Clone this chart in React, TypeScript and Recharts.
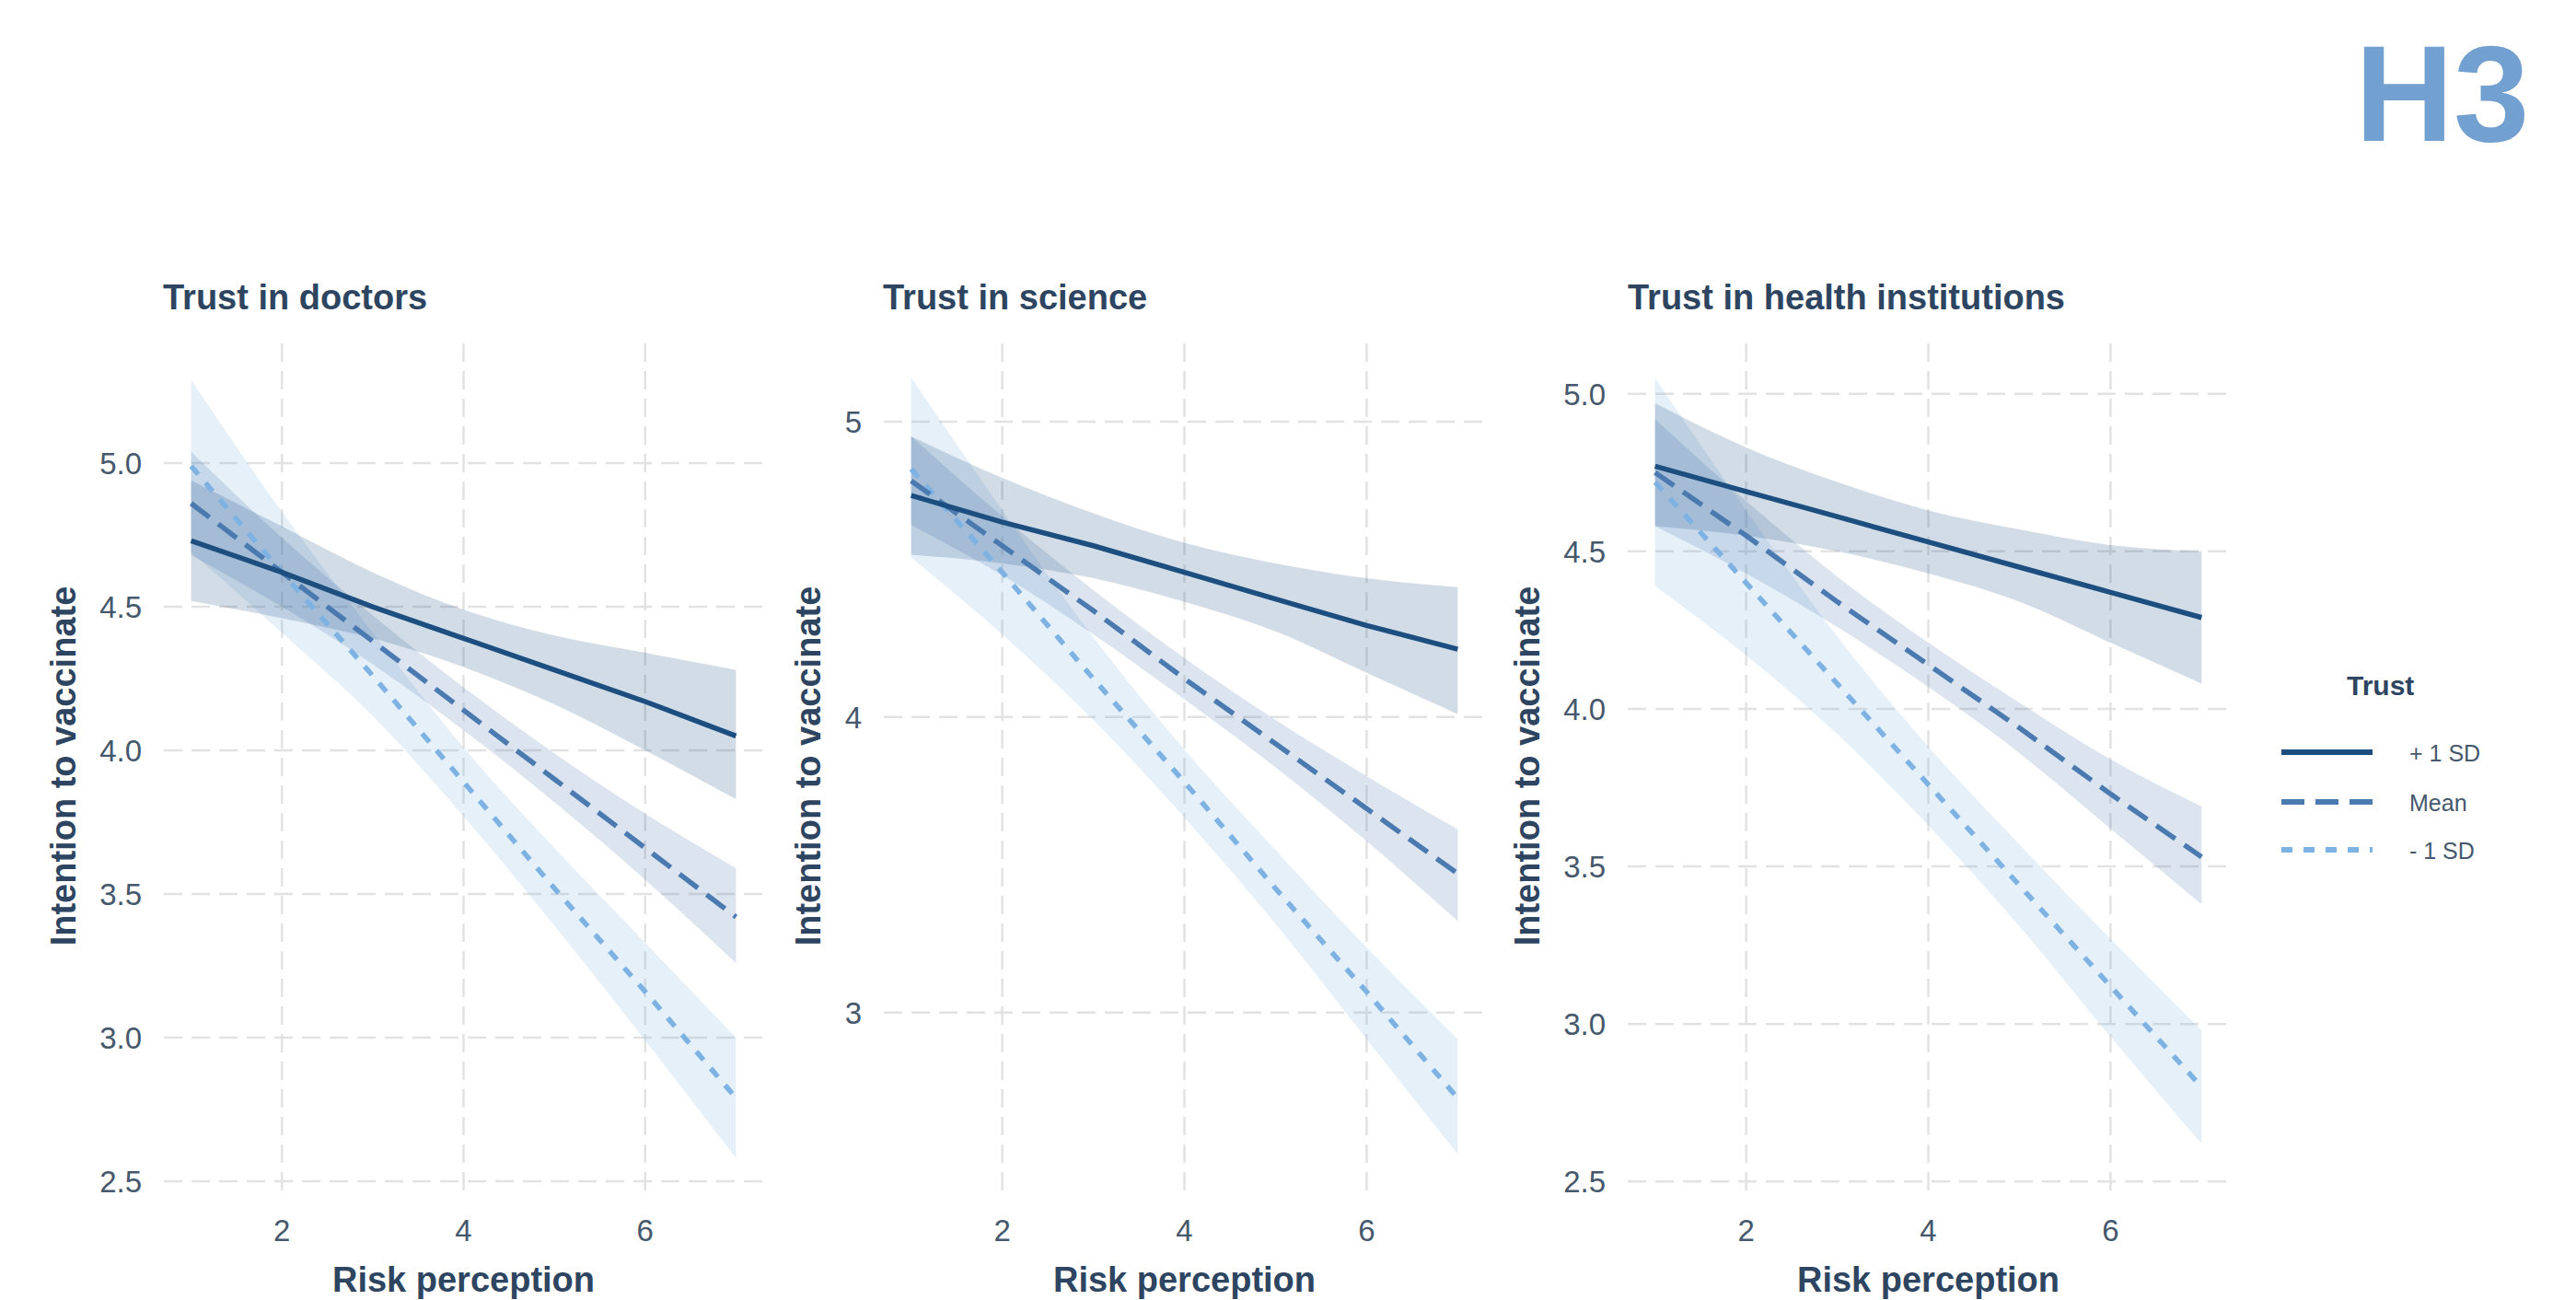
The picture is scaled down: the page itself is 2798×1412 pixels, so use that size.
import React from 'react';
import { ComposedChart, Area, Line, XAxis, YAxis, CartesianGrid } from 'recharts';

// ---------- data ----------
const riskX = [1, 2, 3, 4, 5, 6, 7];
const xTicks = [2, 4, 6];

const panelTitles = ['Trust in doctors', 'Trust in science', 'Trust in health institutions'];
const seriesNames = ['+ 1 SD', 'Mean', '- 1 SD'];
const legendTitle = 'Trust';
const xTitle = 'Risk perception';
const yTitle = 'Intention to vaccinate';
const cornerLabel = 'H3';

// Trust in doctors
const docYTicks = [2.5, 3.0, 3.5, 4.0, 4.5, 5.0];
const docPlusFit = [4.73, 4.62, 4.5, 4.39, 4.28, 4.17, 4.05];
const docPlusLow = [4.52, 4.46, 4.39, 4.29, 4.16, 4.0, 3.83];
const docPlusHigh = [4.94, 4.78, 4.62, 4.49, 4.4, 4.34, 4.28];
const docMeanFit = [4.86, 4.62, 4.38, 4.14, 3.9, 3.66, 3.42];
const docMeanLow = [4.68, 4.5, 4.3, 4.07, 3.82, 3.55, 3.26];
const docMeanHigh = [5.04, 4.74, 4.47, 4.22, 3.99, 3.78, 3.59];
const docMinusFit = [4.99, 4.62, 4.26, 3.89, 3.52, 3.16, 2.79];
const docMinusLow = [4.69, 4.41, 4.12, 3.77, 3.39, 2.99, 2.58];
const docMinusHigh = [5.29, 4.83, 4.41, 4.01, 3.66, 3.33, 3.0];

// Trust in science
const sciYTicks = [3, 4, 5];
const sciPlusFit = [4.75, 4.66, 4.58, 4.49, 4.4, 4.31, 4.23];
const sciPlusLow = [4.55, 4.52, 4.47, 4.39, 4.29, 4.15, 4.01];
const sciPlusHigh = [4.95, 4.81, 4.69, 4.59, 4.52, 4.47, 4.44];
const sciMeanFit = [4.8, 4.58, 4.36, 4.13, 3.91, 3.69, 3.47];
const sciMeanLow = [4.65, 4.48, 4.28, 4.06, 3.83, 3.58, 3.31];
const sciMeanHigh = [4.95, 4.68, 4.43, 4.2, 3.99, 3.8, 3.62];
const sciMinusFit = [4.84, 4.49, 4.13, 3.78, 3.42, 3.07, 2.71];
const sciMinusLow = [4.54, 4.28, 3.99, 3.66, 3.3, 2.91, 2.52];
const sciMinusHigh = [5.15, 4.7, 4.27, 3.89, 3.55, 3.22, 2.91];

// Trust in health institutions
const hltYTicks = [2.5, 3.0, 3.5, 4.0, 4.5, 5.0];
const hltPlusFit = [4.77, 4.69, 4.61, 4.53, 4.45, 4.37, 4.29];
const hltPlusLow = [4.58, 4.55, 4.5, 4.43, 4.34, 4.21, 4.08];
const hltPlusHigh = [4.97, 4.83, 4.72, 4.63, 4.57, 4.52, 4.5];
const hltMeanFit = [4.75, 4.55, 4.34, 4.14, 3.94, 3.73, 3.53];
const hltMeanLow = [4.58, 4.43, 4.26, 4.07, 3.86, 3.62, 3.38];
const hltMeanHigh = [4.92, 4.66, 4.42, 4.21, 4.02, 3.84, 3.69];
const hltMinusFit = [4.72, 4.4, 4.08, 3.76, 3.44, 3.12, 2.8];
const hltMinusLow = [4.39, 4.17, 3.92, 3.63, 3.31, 2.96, 2.62];
const hltMinusHigh = [5.05, 4.63, 4.23, 3.88, 3.57, 3.27, 2.98];

// ---------- styling ----------
const FONT = '"Liberation Sans", Arial, Helvetica, sans-serif';
const TITLE_COLOR = '#2d4560';
const TICK_COLOR = '#46586c';
const C_PLUS = '#1c4f80';
const C_MEAN = '#4a7ab0';
const C_MINUS = '#7db2e3';
const DASH_MEAN = '25 12';
const DASH_MINUS = '12 12';
const LINE_W = 5.5;
const TICK_FS = 33;
const PAGE_W = 2798;
const PAGE_H = 1412;

type Row = {
  x: number;
  plusFit: number; plusBand: [number, number];
  meanFit: number; meanBand: [number, number];
  minusFit: number; minusBand: [number, number];
};

function buildRows(
  pF: number[], pL: number[], pH: number[],
  mF: number[], mL: number[], mH: number[],
  nF: number[], nL: number[], nH: number[]
): Row[] {
  return riskX.map((x, i) => ({
    x,
    plusFit: pF[i], plusBand: [pL[i], pH[i]],
    meanFit: mF[i], meanBand: [mL[i], mH[i]],
    minusFit: nF[i], minusBand: [nL[i], nH[i]],
  }));
}

const docRows = buildRows(docPlusFit, docPlusLow, docPlusHigh, docMeanFit, docMeanLow, docMeanHigh, docMinusFit, docMinusLow, docMinusHigh);
const sciRows = buildRows(sciPlusFit, sciPlusLow, sciPlusHigh, sciMeanFit, sciMeanLow, sciMeanHigh, sciMinusFit, sciMinusLow, sciMinusHigh);
const hltRows = buildRows(hltPlusFit, hltPlusLow, hltPlusHigh, hltMeanFit, hltMeanLow, hltMeanHigh, hltMinusFit, hltMinusLow, hltMinusHigh);

type PanelCfg = {
  title: string;
  rows: Row[];
  yTicks: number[];
  fmt: (v: number) => string;
  domain: [number, number];
  left: number;
  width: number;
  yAxisWidth: number;
  right: number;
  yTitleX: number;
  titleX: number;
};

const PLOT_TOP = 373;
const X_AXIS_H = 115;

const panels: PanelCfg[] = [
  {
    title: panelTitles[0], rows: docRows, yTicks: docYTicks, fmt: (v) => v.toFixed(1),
    domain: [2.455, 5.417], left: 0, width: 900, yAxisWidth: 178, right: 71, yTitleX: 82, titleX: 177,
  },
  {
    title: panelTitles[1], rows: sciRows, yTicks: sciYTicks, fmt: (v) => String(v),
    domain: [2.385, 5.265], left: 850, width: 800, yAxisWidth: 110, right: 37, yTitleX: 41, titleX: 959,
  },
  {
    title: panelTitles[2], rows: hltRows, yTicks: hltYTicks, fmt: (v) => v.toFixed(1),
    domain: [2.46, 5.16], left: 1620, width: 820, yAxisWidth: 148, right: 19, yTitleX: 52, titleX: 1768,
  },
];

function Panel({ cfg }: { cfg: PanelCfg }) {
  const plotLeft = cfg.yAxisWidth;
  const plotRight = cfg.width - cfg.right;
  const plotCenterX = (plotLeft + plotRight) / 2;
  const plotBottom = PAGE_H - X_AXIS_H;
  const plotCenterY = (PLOT_TOP + plotBottom) / 2 - 3;

  const XTick = (p: any) => (
    <text x={p.x} y={p.y} dy="0.71em" textAnchor="middle" fontSize={TICK_FS} fontFamily={FONT} fill={TICK_COLOR}>
      {p.payload.value}
    </text>
  );
  const YTick = (p: any) => (
    <text x={p.x} y={p.y} dy="0.36em" textAnchor="end" fontSize={TICK_FS} fontFamily={FONT} fill={TICK_COLOR}>
      {cfg.fmt(p.payload.value)}
    </text>
  );

  return (
    <div style={{ position: 'absolute', left: cfg.left, top: 0 }}>
      <ComposedChart
        width={cfg.width}
        height={PAGE_H}
        data={cfg.rows}
        margin={{ top: PLOT_TOP, right: cfg.right, bottom: 0, left: 0 }}
      >
        <CartesianGrid stroke="#e2e2e2" strokeWidth={2.5} strokeDasharray="20 10" syncWithTicks />
        <XAxis
          type="number"
          dataKey="x"
          domain={[0.7, 7.3]}
          ticks={xTicks}
          interval={0}
          allowDataOverflow
          height={X_AXIS_H}
          tickLine={false}
          axisLine={false}
          tickSize={0}
          tickMargin={28}
          tick={XTick}
          label={{
            content: () => (
              <text x={plotCenterX} y={1403} textAnchor="middle" fontSize={38} fontWeight={700} fontFamily={FONT} fill={TITLE_COLOR}>
                {xTitle}
              </text>
            ),
          }}
        />
        <YAxis
          type="number"
          domain={cfg.domain}
          ticks={cfg.yTicks}
          interval={0}
          allowDataOverflow
          width={cfg.yAxisWidth}
          tickLine={false}
          axisLine={false}
          tickSize={0}
          tickMargin={24}
          tick={YTick}
          label={{
            content: () => (
              <text
                x={cfg.yTitleX}
                y={plotCenterY}
                transform={`rotate(-90, ${cfg.yTitleX}, ${plotCenterY})`}
                textAnchor="middle"
                fontSize={38}
                fontWeight={700}
                fontFamily={FONT}
                fill={TITLE_COLOR}
              >
                {yTitle}
              </text>
            ),
          }}
        />
        <Area type="monotone" dataKey="minusBand" stroke="none" fill={C_MINUS} fillOpacity={0.2} isAnimationActive={false} activeDot={false} />
        <Area type="monotone" dataKey="meanBand" stroke="none" fill={C_MEAN} fillOpacity={0.2} isAnimationActive={false} activeDot={false} />
        <Area type="monotone" dataKey="plusBand" stroke="none" fill={C_PLUS} fillOpacity={0.2} isAnimationActive={false} activeDot={false} />
        <Line type="linear" dataKey="minusFit" stroke={C_MINUS} strokeWidth={LINE_W} strokeDasharray={DASH_MINUS} dot={false} activeDot={false} isAnimationActive={false} />
        <Line type="linear" dataKey="meanFit" stroke={C_MEAN} strokeWidth={LINE_W} strokeDasharray={DASH_MEAN} dot={false} activeDot={false} isAnimationActive={false} />
        <Line type="linear" dataKey="plusFit" stroke={C_PLUS} strokeWidth={LINE_W} dot={false} activeDot={false} isAnimationActive={false} />
      </ComposedChart>
    </div>
  );
}

function Overlay() {
  const legendRows = [
    { name: seriesNames[0], color: C_PLUS, dash: undefined as string | undefined, y: 817 },
    { name: seriesNames[1], color: C_MEAN, dash: DASH_MEAN, y: 871 },
    { name: seriesNames[2], color: C_MINUS, dash: DASH_MINUS, y: 923 },
  ];
  return (
    <svg width={PAGE_W} height={PAGE_H} style={{ position: 'absolute', left: 0, top: 0, pointerEvents: 'none' }}>
      {panels.map((p) => (
        <text key={p.title} x={p.titleX} y={336} fontSize={38} fontWeight={700} fontFamily={FONT} fill={TITLE_COLOR}>
          {p.title}
        </text>
      ))}
      <text x={2558} y={153} fontSize={148} fontWeight={700} fontFamily={FONT} fill="#72a0d0">
        {cornerLabel}
      </text>
      <text x={2549} y={755} fontSize={30} fontWeight={700} fontFamily={FONT} fill={TITLE_COLOR}>
        {legendTitle}
      </text>
      {legendRows.map((r) => (
        <g key={r.name}>
          <line x1={2478} x2={2577} y1={r.y} y2={r.y} stroke={r.color} strokeWidth={6} strokeDasharray={r.dash} />
          <text x={2617} y={r.y + 10} fontSize={25} fontFamily={FONT} fill={TICK_COLOR}>
            {r.name}
          </text>
        </g>
      ))}
    </svg>
  );
}

export default function App() {
  return (
    <div style={{ position: 'absolute', left: 0, top: 0, width: PAGE_W, height: PAGE_H, background: '#ffffff', overflow: 'hidden' }}>
      {panels.map((p) => (
        <Panel key={p.title} cfg={p} />
      ))}
      <Overlay />
    </div>
  );
}
